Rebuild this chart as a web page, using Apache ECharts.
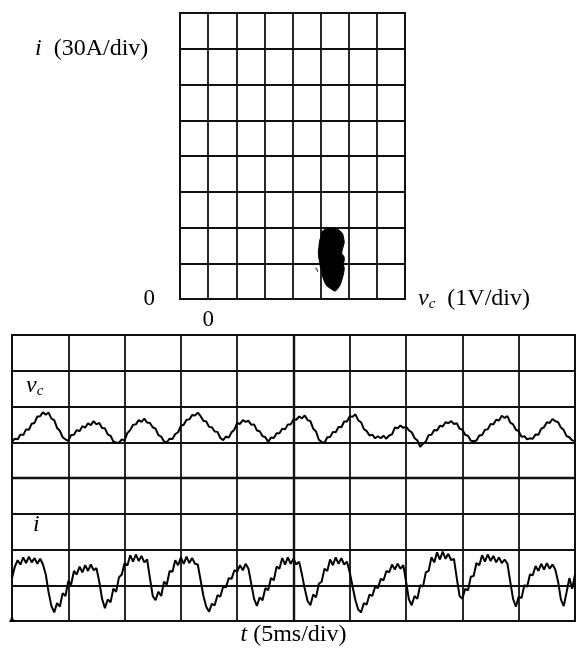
<!DOCTYPE html>
<html>
<head>
<meta charset="utf-8">
<script src="https://cdn.jsdelivr.net/npm/echarts/dist/echarts.min.js"></script>
<style>
  html, body { margin: 0; padding: 0; background: #fff; }
  #chart { width: 576px; height: 648px; }
</style>
</head>
<body>
<div id="chart"></div>
<script>
// ---- Phase portrait (i versus v_c): outline of the operating-point cloud ----
const blobV = [4.16, 4.30, 4.46, 4.60, 4.69, 4.78, 4.81, 4.84, 4.80, 4.75, 4.83, 4.84, 4.81, 4.84, 4.82, 4.79, 4.69, 4.60, 4.52, 4.42, 4.34, 4.22, 4.16, 4.10, 4.06, 4.04, 3.99, 3.96, 3.93, 3.92, 3.94, 3.96, 4.01, 4.04];
const blobI = [58.4, 59.6, 59.2, 58.6, 57.2, 54.8, 52.2, 47.5, 43.8, 38.3, 35.5, 32.7, 29.0, 25.7, 22.0, 18.7, 11.7, 8.4, 6.7, 7.6, 9.0, 11.0, 13.2, 16.8, 20.1, 23.5, 27.1, 31.2, 35.4, 40.0, 43.8, 48.5, 52.2, 56.4];
// a few stray samples just left of the cloud
const strayV = [3.84, 3.87, 3.89];
const strayI = [25.7, 24.6, 23.4];

// ---- Time traces, one sample every 0.25 ms, in screen divisions (8 div tall) ----
const sampleStepMs = 0.25;
const vcTrace = [
  5.00, 5.10, 5.08, 5.22, 5.20, 5.36, 5.35, 5.52, 5.54, 5.72, 5.73, 5.84, 5.77, 5.83, 5.66, 5.62, 5.40, 5.32, 5.14, 5.08,
  5.04, 5.20, 5.21, 5.34, 5.31, 5.45, 5.41, 5.53, 5.48, 5.59, 5.50, 5.54, 5.40, 5.39, 5.22, 5.18, 5.02, 4.99, 4.98, 5.08,
  5.05, 5.26, 5.34, 5.49, 5.50, 5.62, 5.57, 5.66, 5.55, 5.54, 5.42, 5.38, 5.20, 5.16, 5.02, 5.00, 5.10, 5.09, 5.23, 5.28,
  5.46, 5.49, 5.63, 5.64, 5.76, 5.75, 5.83, 5.73, 5.60, 5.58, 5.43, 5.42, 5.30, 5.29, 5.12, 5.06, 5.16, 5.13, 5.28, 5.35,
  5.54, 5.51, 5.62, 5.57, 5.60, 5.49, 5.50, 5.33, 5.31, 5.17, 5.14, 5.01, 5.13, 5.12, 5.25, 5.25, 5.38, 5.36, 5.50, 5.50,
  5.64, 5.63, 5.72, 5.67, 5.75, 5.62, 5.59, 5.38, 5.30, 5.07, 5.01, 4.98, 5.14, 5.15, 5.29, 5.28, 5.43, 5.42, 5.58, 5.58,
  5.73, 5.71, 5.78, 5.61, 5.56, 5.37, 5.31, 5.19, 5.21, 5.11, 5.17, 5.11, 5.18, 5.10, 5.19, 5.22, 5.41, 5.39, 5.47, 5.40,
  5.44, 5.33, 5.28, 5.12, 5.05, 4.87, 4.96, 5.02, 5.20, 5.21, 5.34, 5.33, 5.46, 5.44, 5.56, 5.53, 5.59, 5.51, 5.53, 5.38,
  5.35, 5.21, 5.18, 5.04, 5.03, 5.05, 5.19, 5.20, 5.35, 5.36, 5.51, 5.50, 5.63, 5.61, 5.74, 5.68, 5.73, 5.55, 5.50, 5.35,
  5.31, 5.15, 5.17, 5.08, 5.11, 5.10, 5.22, 5.21, 5.38, 5.42, 5.56, 5.54, 5.65, 5.59, 5.56, 5.41, 5.34, 5.17, 5.14, 5.05,
  5.04
];
const iTrace = [
  1.20, 1.52, 1.70, 1.58, 1.78, 1.62, 1.80, 1.64, 1.76, 1.60, 1.74, 1.58, 1.30, 0.80, 0.42, 0.24, 0.50, 0.40, 0.78, 0.70,
  1.12, 1.02, 1.40, 1.30, 1.52, 1.36, 1.56, 1.40, 1.58, 1.42, 1.48, 1.10, 0.62, 0.36, 0.60, 0.52, 0.90, 0.82, 1.22, 1.30,
  1.62, 1.55, 1.84, 1.66, 1.86, 1.68, 1.82, 1.64, 1.72, 1.20, 0.70, 0.58, 0.82, 0.70, 1.10, 1.02, 1.40, 1.38, 1.70, 1.56,
  1.78, 1.60, 1.80, 1.62, 1.76, 1.60, 1.58, 1.14, 0.70, 0.40, 0.26, 0.48, 0.44, 0.72, 0.68, 0.96, 0.94, 1.20, 1.18, 1.42,
  1.38, 1.56, 1.42, 1.60, 1.46, 1.04, 0.62, 0.42, 0.66, 0.58, 0.92, 0.86, 1.20, 1.14, 1.52, 1.46, 1.76, 1.58, 1.78, 1.60,
  1.74, 1.58, 1.66, 1.30, 0.90, 0.56, 0.44, 0.74, 0.66, 1.04, 1.10, 1.46, 1.40, 1.72, 1.56, 1.78, 1.60, 1.76, 1.58, 1.66,
  1.36, 0.96, 0.58, 0.32, 0.24, 0.50, 0.46, 0.74, 0.70, 0.96, 0.92, 1.18, 1.14, 1.40, 1.36, 1.58, 1.44, 1.60, 1.46, 1.56,
  1.10, 0.60, 0.44, 0.70, 0.62, 1.00, 0.96, 1.36, 1.40, 1.78, 1.64, 1.92, 1.72, 1.94, 1.74, 1.88, 1.70, 1.74, 1.20, 0.70,
  0.62, 0.90, 0.86, 1.24, 1.26, 1.62, 1.56, 1.84, 1.66, 1.86, 1.68, 1.82, 1.64, 1.78, 1.62, 1.72, 1.60, 1.10, 0.62, 0.40,
  0.68, 0.64, 1.00, 0.96, 1.30, 1.28, 1.54, 1.40, 1.60, 1.44, 1.62, 1.46, 1.58, 1.44, 1.10, 0.60, 0.42, 0.80, 1.20, 0.90,
  1.30
];

const SERIF = 'Liberation Serif, Times New Roman, serif';
const INK = '#111';

const toPairs = (arr) => arr.map((y, k) => [k * sampleStepMs, y]);
const blobData = blobV.map((v, j) => [v, blobI[j]]);
const strayData = strayV.map((v, j) => [v, strayI[j]]);

const gridLine = { show: true, lineStyle: { color: INK, width: 1.8 } };
const frameLine = { show: true, onZero: false, lineStyle: { color: INK, width: 2 } };

const chart = echarts.init(document.getElementById('chart'), null, { renderer: 'canvas' });

chart.setOption({
  animation: false,
  backgroundColor: '#fff',
  grid: [
    { left: 180, top: 13, width: 225, height: 286, show: true, borderColor: INK, borderWidth: 2, backgroundColor: 'transparent' },
    { left: 12, top: 335, width: 563, height: 288, show: true, borderColor: INK, borderWidth: 2, backgroundColor: 'transparent' }
  ],
  xAxis: [
    {
      gridIndex: 0, type: 'value', min: -1, max: 7, interval: 1,
      axisLine: frameLine, axisTick: { show: false }, splitLine: gridLine,
      axisLabel: {
        show: true, margin: 9, color: '#000', fontFamily: SERIF, fontSize: 23,
        formatter: (v) => (v === 0 ? '0' : '')
      },
      name: '{v|v}{c|c}  (1V/div)',
      nameLocation: 'end', nameGap: 13,
      nameTextStyle: {
        color: '#000', fontFamily: SERIF, fontSize: 24,
        rich: {
          v: { fontFamily: SERIF, fontSize: 24, fontStyle: 'italic', color: '#000' },
          c: { fontFamily: SERIF, fontSize: 15, fontStyle: 'italic', color: '#000', padding: [10, 0, 0, 0] }
        }
      }
    },
    {
      gridIndex: 1, type: 'value', min: 0, max: 50, interval: 5,
      axisLine: frameLine, axisTick: { show: false }, splitLine: gridLine,
      axisLabel: { show: false },
      name: '{t|t} (5ms/div)',
      nameLocation: 'middle', nameGap: 2,
      nameTextStyle: {
        color: '#000', fontFamily: SERIF, fontSize: 24, verticalAlign: 'top',
        rich: { t: { fontFamily: SERIF, fontSize: 24, fontStyle: 'italic', color: '#000' } }
      }
    }
  ],
  yAxis: [
    {
      gridIndex: 0, type: 'value', min: 0, max: 240, interval: 30,
      axisLine: frameLine, axisTick: { show: false }, splitLine: gridLine,
      axisLabel: {
        show: true, margin: 25, color: '#000', fontFamily: SERIF, fontSize: 23,
        formatter: (v) => (v === 0 ? '0' : '')
      }
    },
    {
      gridIndex: 1, type: 'value', min: 0, max: 8, interval: 1,
      axisLine: frameLine, axisTick: { show: false }, splitLine: gridLine,
      axisLabel: { show: false }
    }
  ],
  graphic: [
    {
      type: 'text', left: 35, top: 37, silent: true,
      style: {
        text: '{i|i}  (30A/div)', fill: '#000', font: '24px ' + SERIF,
        rich: { i: { fontFamily: SERIF, fontSize: 24, fontStyle: 'italic', fill: '#000' } }
      }
    },
    {
      type: 'text', left: 26, top: 374, silent: true,
      style: {
        text: '{v|v}{c|c}', fill: '#000', font: '24px ' + SERIF,
        rich: {
          v: { fontFamily: SERIF, fontSize: 24, fontStyle: 'italic', fill: '#000' },
          c: { fontFamily: SERIF, fontSize: 15, fontStyle: 'italic', fill: '#000', padding: [10, 0, 0, 0] }
        }
      }
    },
    {
      type: 'text', left: 33, top: 513, silent: true,
      style: { text: 'i', fill: '#000', font: 'italic 24px ' + SERIF }
    }
  ],
  series: [
    {
      name: 'operating cloud', type: 'custom', xAxisIndex: 0, yAxisIndex: 0,
      data: blobData,
      renderItem: (params, api) => {
        if (params.dataIndex !== 0) return null;
        const pts = blobData.map((p) => api.coord(p));
        return {
          type: 'polygon',
          shape: { points: pts, smooth: 0.25 },
          style: { fill: '#000', stroke: '#000', lineWidth: 1 }
        };
      },
      silent: true
    },
    {
      name: 'stray', type: 'scatter', xAxisIndex: 0, yAxisIndex: 0,
      data: strayData, symbol: 'circle', symbolSize: 1.6,
      itemStyle: { color: '#000' }, silent: true
    },
    {
      name: 'vc', type: 'line', xAxisIndex: 1, yAxisIndex: 1,
      data: toPairs(vcTrace), showSymbol: false, smooth: false,
      lineStyle: { color: '#000', width: 2 },
      markLine: {
        silent: true, symbol: 'none', label: { show: false },
        lineStyle: { color: INK, width: 2.4, type: 'solid' },
        data: [{ xAxis: 25 }, { yAxis: 4 }]
      }
    },
    {
      name: 'i', type: 'line', xAxisIndex: 1, yAxisIndex: 1,
      data: toPairs(iTrace), showSymbol: false, smooth: false,
      lineStyle: { color: '#000', width: 2 },
      markPoint: {
        silent: true, symbol: 'triangle', symbolSize: 6, symbolOffset: [0, -2],
        itemStyle: { color: '#000' }, label: { show: false },
        data: [{ coord: [0, 0] }]
      }
    }
  ]
});
</script>
</body>
</html>
